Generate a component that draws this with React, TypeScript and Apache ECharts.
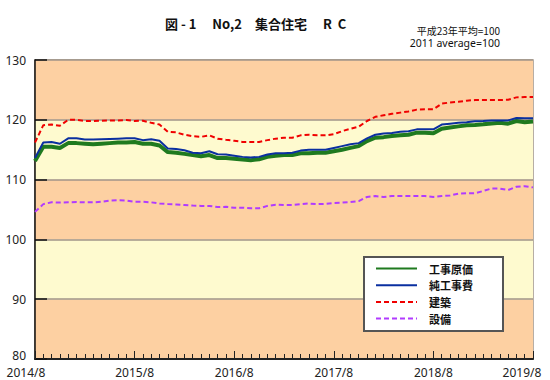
import React, { useEffect, useRef } from "react";
import * as echarts from "echarts";

const tickLabels = ["2014/8", "2015/8", "2016/8", "2017/8", "2018/8", "2019/8"];

const months: string[] = [];
for (let i = 0; i < 61; i++) {
  const k = 7 + i;
  months.push(`${2014 + Math.floor(k / 12)}/${(k % 12) + 1}`);
}

const seriesNames = ["工事原価", "純工事費", "建築", "設備"];

const koujiGenka = [
  113.1, 115.5, 115.5, 115.3, 116.1, 116.1, 116.0, 115.9, 116.0, 116.1, 116.2, 116.2,
  116.3, 116.0, 116.0, 115.7, 114.6, 114.5, 114.3, 114.1, 113.9, 114.1, 113.6, 113.6,
  113.5, 113.35, 113.25, 113.4, 113.8, 114.0, 114.1, 114.1, 114.4, 114.4, 114.5, 114.5,
  114.75, 115.0, 115.3, 115.6, 116.45, 117.0, 117.1, 117.3, 117.4, 117.5, 117.85, 117.85,
  117.75, 118.5, 118.7, 118.9, 119.1, 119.15, 119.25, 119.4, 119.5, 119.35, 119.8, 119.6,
  119.7,
];
const junKoujihi = [
  113.6, 116.2, 116.3, 116.0, 116.9, 116.9, 116.7, 116.7, 116.75, 116.8, 116.85, 116.9,
  116.9, 116.6, 116.75, 116.5, 115.2, 115.1, 114.9, 114.5, 114.4, 114.75, 114.25, 114.2,
  114.0, 113.8, 113.7, 113.8, 114.2, 114.4, 114.4, 114.5, 114.85, 115.0, 115.0, 115.0,
  115.3, 115.6, 115.9, 116.1, 116.9, 117.5, 117.7, 117.8, 118.0, 118.1, 118.4, 118.4,
  118.4, 119.2, 119.35, 119.5, 119.6, 119.75, 119.8, 119.9, 119.9, 119.9, 120.3, 120.25,
  120.25,
];
const kenchiku = [
  116.2, 119.1, 119.2, 119.0, 120.0, 120.0, 119.8, 119.8, 119.85, 119.9, 119.9, 119.95,
  119.8, 119.85, 119.5, 119.2, 118.0, 117.9, 117.5, 117.25, 117.15, 117.4, 116.85, 116.65,
  116.5, 116.3, 116.3, 116.3, 116.6, 116.85, 117.0, 117.0, 117.4, 117.5, 117.4, 117.4,
  117.6, 118.1, 118.5, 118.85, 119.8, 120.5, 120.75, 121.0, 121.2, 121.4, 121.7, 121.75,
  121.75, 122.7, 122.9, 123.0, 123.2, 123.3, 123.3, 123.3, 123.3, 123.35, 123.75, 123.8,
  123.8,
];
const setsubi = [
  104.6, 105.9, 106.2, 106.15, 106.2, 106.25, 106.2, 106.2, 106.3, 106.5, 106.55, 106.5,
  106.3, 106.3, 106.2, 106.0, 105.9, 105.85, 105.75, 105.65, 105.6, 105.6, 105.4, 105.45,
  105.3, 105.3, 105.2, 105.2, 105.6, 105.8, 105.75, 105.75, 105.9, 106.0, 105.9, 105.95,
  106.1, 106.15, 106.25, 106.4, 107.1, 107.25, 107.1, 107.25, 107.25, 107.25, 107.25, 107.25,
  107.1, 107.25, 107.35, 107.65, 107.7, 107.7, 108.1, 108.5, 108.5, 108.25, 108.8, 108.9,
  108.7,
];

const titleText = "図 - 1　 No,2　集合住宅　 R  C";
const noteLines = ["平成23年平均=100", "2011 average=100"];

const FONT = "'Noto Sans', 'Noto Sans CJK JP', sans-serif";
const JFONT = "'Noto Sans CJK JP', 'Noto Sans', sans-serif";

export default function App() {
  const ref = useRef<HTMLDivElement>(null);
  useEffect(() => {
    if (!ref.current) return;
    const chart = echarts.init(ref.current, undefined, { renderer: "svg" });
    const labelSet = new Set(tickLabels);
    chart.setOption({
      animation: false,
      backgroundColor: "#fff",
      title: {
        text: titleText,
        left: 165,
        top: 17,
        padding: 0,
        textStyle: { fontFamily: JFONT, fontSize: 13, fontWeight: "bold", color: "#111" },
      },
      graphic: [
        {
          type: "text",
          right: 50,
          top: 25,
          style: {
            text: noteLines[0],
            textAlign: "right",
            font: `10px ${JFONT}`,
            lineHeight: 10,
            fill: "#111",
          },
        },
        {
          type: "text",
          right: 50,
          top: 38,
          style: {
            text: noteLines[1],
            textAlign: "right",
            font: `10.5px ${FONT}`,
            lineHeight: 10.5,
            fill: "#111",
          },
        },
      ],
      legend: {
        orient: "vertical",
        left: 364,
        top: 257,
        backgroundColor: "#fff",
        borderColor: "#555",
        borderWidth: 2,
        padding: [6, 30, 7, 11],
        itemWidth: 41,
        itemHeight: 11,
        itemGap: 5.7,
        itemStyle: { opacity: 0 },
        textStyle: {
          fontFamily: JFONT,
          fontSize: 11,
          fontWeight: "bold",
          color: "#111",
          padding: [0, 0, 0, 7],
        },
        data: seriesNames,
      },
      grid: {
        left: 35,
        right: 17,
        top: 60,
        bottom: 21,
        show: true,
        borderColor: "#a09488",
        borderWidth: 1.5,
        backgroundColor: "transparent",
      },
      xAxis: [
        {
          type: "category",
          data: months,
          boundaryGap: false,
          axisLine: { lineStyle: { color: "#222", width: 2 } },
          axisTick: { show: true, interval: 0, inside: true, length: 5, lineStyle: { color: "#222", width: 1 } },
          axisLabel: {
            interval: 11,
            margin: 7,
            color: "#222",
            fontFamily: FONT,
            fontSize: 12,
            formatter: (v: string, idx: number) => {
              if (!labelSet.has(v)) return "";
              if (idx === 0) return `{a|${v}}`;
              if (idx === months.length - 1) return `{b|${v}}`;
              return v;
            },
            rich: {
              a: { fontFamily: FONT, fontSize: 12, color: "#222", padding: [0, 18, 0, 0] },
              b: { fontFamily: FONT, fontSize: 12, color: "#222", padding: [0, 22, 0, 0] },
            },
          },
          splitLine: { show: false },
        },
        {
          type: "category",
          data: months,
          boundaryGap: false,
          position: "bottom",
          axisLine: { show: false },
          axisTick: { show: true, interval: 11, inside: true, length: 8, lineStyle: { color: "#222", width: 1 } },
          axisLabel: { show: false },
          splitLine: { show: false },
        },
      ],
      yAxis: {
        type: "value",
        min: 80,
        max: 130,
        interval: 10,
        axisLine: { show: true, lineStyle: { color: "#111", width: 1.5 } },
        axisTick: { show: true, inside: true, length: 12, lineStyle: { color: "#111", width: 1.5 } },
        axisLabel: {
          color: "#222",
          fontFamily: FONT,
          fontSize: 12,
          margin: 9,
          formatter: (v: number) => (v === 80 ? `{lo|${v}}` : `${v}`),
          rich: { lo: { fontFamily: FONT, fontSize: 12, color: "#222", padding: [0, 0, 7, 0] } },
        },
        splitLine: { show: true, lineStyle: { color: "#a09488", width: 1.5 } },
        splitArea: { show: true, areaStyle: { color: ["#FDD0A2", "#FEFACF"] } },
      },
      series: [
        {
          name: seriesNames[0],
          type: "line",
          data: koujiGenka,
          symbol: "none",
          showSymbol: false,
          lineStyle: { color: "#1f7a1f", width: 4 },
          itemStyle: { color: "#1f7a1f" },
          z: 3,
        },
        {
          name: seriesNames[1],
          type: "line",
          data: junKoujihi,
          symbol: "none",
          showSymbol: false,
          lineStyle: { color: "#0a2fa0", width: 2 },
          itemStyle: { color: "#0a2fa0" },
          z: 4,
        },
        {
          name: seriesNames[2],
          type: "line",
          data: kenchiku,
          symbol: "none",
          showSymbol: false,
          lineStyle: { color: "#f00000", width: 2, type: [5, 3] },
          itemStyle: { color: "#f00000" },
          z: 3,
        },
        {
          name: seriesNames[3],
          type: "line",
          data: setsubi,
          symbol: "none",
          showSymbol: false,
          lineStyle: { color: "#b13bff", width: 2, type: [5, 3] },
          itemStyle: { color: "#b13bff" },
          z: 3,
        },
      ],
    });
    return () => chart.dispose();
  }, []);
  return (
    <div
      ref={ref}
      style={{ position: "fixed", left: 0, top: 0, width: 550, height: 380 }}
    />
  );
}
